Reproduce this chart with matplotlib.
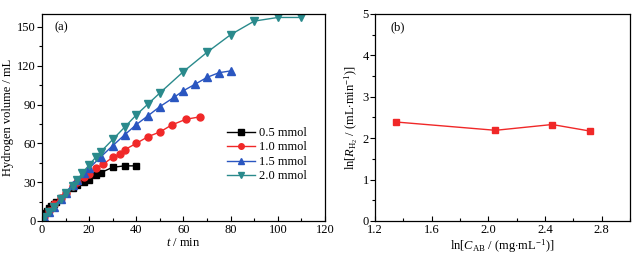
import numpy as np
import matplotlib
matplotlib.use('Agg')
import matplotlib.pyplot as plt
from matplotlib.ticker import MultipleLocator

plt.rcParams['font.family'] = ['Liberation Serif', 'DejaVu Serif']
plt.rcParams['mathtext.fontset'] = 'custom'
plt.rcParams['mathtext.rm'] = 'Liberation Serif'
plt.rcParams['mathtext.it'] = 'Liberation Serif:italic'
plt.rcParams['font.size'] = 9

# (a) hydrogen volume vs time
t_05 = [0, 0.5, 1, 2, 3, 4, 5, 6, 8, 10, 13, 15, 18, 20, 23, 25, 30, 35, 40]
v_05 = [0, 4, 6, 8, 10, 11.5, 13, 15, 18, 21.6, 25.3, 27.6, 30.2, 31.7, 35.6, 37.4, 41.5, 42.6, 42.6]

t_10 = [0, 1, 3, 5, 8, 10, 13, 15, 18, 20, 23, 26, 30, 33, 35, 40, 45, 50, 55, 61, 67]
v_10 = [0, 3, 8, 13, 18, 22, 27, 30, 34, 36.5, 40.7, 44, 49.2, 51.8, 55, 60, 65.2, 68.8, 74.2, 78.6, 80.5]

t_15 = [0, 1, 3, 5, 8, 10, 13, 15, 18, 20, 25, 30, 35, 40, 45, 50, 56, 60, 65, 70, 75, 80]
v_15 = [0, 3, 7, 11, 17, 22, 28, 32, 37, 40.7, 49.7, 58.2, 66.5, 74.5, 81.4, 88.4, 95.6, 100.7, 105.8, 111, 114.6, 116]

t_20 = [0, 1, 3, 5, 8, 10, 13, 15, 17, 20, 23, 25, 30, 35, 40, 45, 50, 60, 70, 80, 90, 100, 110]
v_20 = [0, 3, 7, 11, 17, 22, 27, 31.5, 36.9, 43.3, 49.7, 53.6, 63, 72.4, 82, 90.5, 99, 115.5, 130.4, 144, 154.5, 157.3, 157.3]

# (b) ln rate vs ln concentration
ln_c = [1.35, 2.05, 2.45, 2.72]
ln_r = [2.39, 2.19, 2.33, 2.17]

fig = plt.figure(figsize=(6.39, 2.54), dpi=100)
ax1 = fig.add_axes([0.0657, 0.130, 0.4429, 0.815])
ax2 = fig.add_axes([0.587, 0.130, 0.399, 0.815])

ms = 5
ax1.plot(t_05, v_05, '-s', color='black', ms=ms, lw=1, label='0.5 mmol')
ax1.plot(t_10, v_10, '-o', color='#f02828', ms=ms, lw=1, label='1.0 mmol')
ax1.plot(t_15, v_15, '-^', color='#2a56c0', ms=ms + 0.5, lw=1, label='1.5 mmol')
ax1.plot(t_20, v_20, '-v', color='#2a8a8c', ms=ms + 0.5, lw=1, label='2.0 mmol')

ax1.set_xlim(0, 120)
ax1.set_ylim(0, 160)
ax1.xaxis.set_major_locator(MultipleLocator(20))
ax1.xaxis.set_minor_locator(MultipleLocator(10))
ax1.yaxis.set_major_locator(MultipleLocator(30))
ax1.yaxis.set_minor_locator(MultipleLocator(15))
ax1.set_xlabel('$t$ / min', labelpad=1)
ax1.set_ylabel('Hydrogen volume / mL', labelpad=2)
ax1.text(0.043, 0.935, '(a)', transform=ax1.transAxes, ha='left', va='center')
ax1.legend(loc='center left', bbox_to_anchor=(0.63, 0.32), frameon=False,
           handlelength=2.3, handletextpad=0.3, labelspacing=0.2,
           markerscale=0.8, fontsize=9, borderpad=0)

ax2.plot(ln_c, ln_r, '-s', color='#f02828', ms=ms, lw=1)
ax2.set_xlim(1.2, 3.0)
ax2.set_ylim(0, 5)
ax2.xaxis.set_major_locator(MultipleLocator(0.4))
ax2.xaxis.set_minor_locator(MultipleLocator(0.2))
ax2.yaxis.set_major_locator(MultipleLocator(1))
ax2.yaxis.set_minor_locator(MultipleLocator(0.5))
ax2.set_xlabel(r'ln[$C_{\mathrm{AB}}$ / (mg$\cdot$mL$^{-1}$)]', labelpad=1)
ax2.set_ylabel(r'ln[$R_{\mathrm{H_2}}$ / (mL$\cdot$min$^{-1}$)]', labelpad=2)
ax2.text(0.06, 0.935, '(b)', transform=ax2.transAxes, ha='left', va='center')

for ax in (ax1, ax2):
    ax.tick_params(axis='x', which='both', direction='in', pad=2)
    ax.tick_params(axis='y', which='both', direction='out', pad=1)
    ax.tick_params(which='major', length=3.5, width=0.8)
    ax.tick_params(which='minor', length=2, width=0.8)
    for s in ax.spines.values():
        s.set_linewidth(0.9)

fig.savefig('out.png', dpi=100)
